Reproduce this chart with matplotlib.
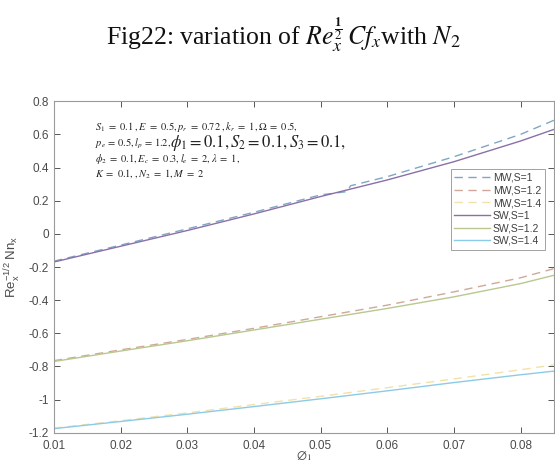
import matplotlib
matplotlib.use("Agg")
import matplotlib.pyplot as plt

# ---- data ----
x_grid = [0.01, 0.02, 0.03, 0.04, 0.05, 0.06, 0.07, 0.08, 0.085]
x_mw1 = [0.01, 0.02, 0.03, 0.04, 0.05, 0.054, 0.0545, 0.06, 0.07, 0.08, 0.085]
mw_s1 = [-0.165, -0.068, 0.03, 0.13, 0.235, 0.255, 0.29, 0.345, 0.465, 0.60, 0.685]
mw_s12 = [-0.765, -0.70, -0.637, -0.57, -0.50, -0.43, -0.35, -0.265, -0.21]
mw_s14 = [-1.172, -1.127, -1.08, -1.03, -0.98, -0.928, -0.875, -0.82, -0.79]
sw_s1 = [-0.17, -0.075, 0.02, 0.12, 0.225, 0.325, 0.435, 0.56, 0.63]
sw_s12 = [-0.77, -0.707, -0.645, -0.58, -0.515, -0.45, -0.38, -0.30, -0.25]
sw_s14 = [-1.175, -1.132, -1.088, -1.042, -0.995, -0.947, -0.897, -0.85, -0.828]

labels = ["MW,S=1", "MW,S=1.2", "MW,S=1.4", "SW,S=1", "SW,S=1.2", "SW,S=1.4"]
colors = ["#7fa7c4", "#d0a898", "#f2e2a8", "#8a70a8", "#b8c890", "#8ccbe8"]

xticks = [0.01, 0.02, 0.03, 0.04, 0.05, 0.06, 0.07, 0.08]
yticks = [-1.2, -1, -0.8, -0.6, -0.4, -0.2, 0, 0.2, 0.4, 0.6, 0.8]
ytick_labels = ["-1.2", "-1", "-0.8", "-0.6", "-0.4", "-0.2", "0", "0.2", "0.4", "0.6", "0.8"]

plt.rcParams['mathtext.fontset'] = 'stix'
fig = plt.figure(figsize=(5.55, 4.73), dpi=100)
ax = fig.add_axes([0.097, 0.085, 0.901, 0.701])

gray = "#555555"
ax.plot(x_mw1, mw_s1, ls=(0, (6, 4)), color=colors[0], lw=1.0, label=labels[0])
ax.plot(x_grid, mw_s12, ls=(0, (6, 4)), color=colors[1], lw=1.0, label=labels[1])
ax.plot(x_grid, mw_s14, ls=(0, (6, 4)), color=colors[2], lw=1.0, label=labels[2])
ax.plot(x_grid, sw_s1, color=colors[3], lw=1.0, label=labels[3])
ax.plot(x_grid, sw_s12, color=colors[4], lw=1.0, label=labels[4])
ax.plot(x_grid, sw_s14, color=colors[5], lw=1.0, label=labels[5])

ax.set_xlim(0.01, 0.085)
ax.set_ylim(-1.2, 0.8)
ax.set_xticks(xticks)
ax.set_xticklabels([f"{t:.2f}" for t in xticks])
ax.set_yticks(yticks)
ax.set_yticklabels(ytick_labels)
ax.tick_params(direction='in', length=4, width=0.7, colors=gray, labelsize=8.5,
               top=True, right=True, labelcolor="#4a4a4a")
ax.tick_params(axis='x', pad=5)
for lab in ax.get_xticklabels() + ax.get_yticklabels():
    lab.set_family("Liberation Sans")
for s in ax.spines.values():
    s.set_color("#9a9a9a")
    s.set_linewidth(0.8)

ax.set_ylabel(r"$\mathregular{Re_x^{-1/2}\ Nn_x}$", fontsize=9.5, color="#4a4a4a",
              family="Liberation Sans", labelpad=4)
ax.set_xlabel(r"$\varnothing_1$", fontsize=9.5, color="#4a4a4a", labelpad=-2)

leg = ax.legend(loc="upper right", bbox_to_anchor=(0.982, 0.795),
                prop={"family": "Liberation Sans", "size": 7.5},
                frameon=True, fancybox=False, handlelength=3.4, handletextpad=0.3,
                labelspacing=0.25, borderpad=0.35, borderaxespad=0.0)
leg.get_frame().set_edgecolor("#8a8a8a")
leg.get_frame().set_linewidth(0.7)
for t in leg.get_texts():
    t.set_color("#404040")

fig.text(0.51, 0.925,
         r"Fig22: variation of $Re_x^{\frac{\mathbf{1}}{2}}\,Cf_x$with $N_2$",
         ha="center", va="center", fontsize=18.5, family="Liberation Serif", color="#111111")

# annotation text
tx = 0.082
tc = "#222222"
ax.text(tx, 0.922, r"$S_1\ =\ 0.1\ ,E\ =\ 0.5, p_r\ =\ 0.72\ , k_r\ =\ 1, \Omega\ =\ 0.5,$",
        transform=ax.transAxes, fontsize=7.5, color=tc, va="center")
ax.text(tx, 0.862, r"$p_e\,=\,0.5, l_p\,=\,1.2,$", transform=ax.transAxes,
        fontsize=7.5, color=tc, va="baseline")
ax.text(0.232, 0.862, r"$\phi_1 = 0.1, S_2 = 0.1, S_3 = 0.1,$", transform=ax.transAxes,
        fontsize=12, color=tc, va="baseline")
ax.text(tx, 0.826, r"$\phi_2\ =\ 0.1, E_c\ =\ 0.3, l_e\ =\ 2, \lambda\ =\ 1,$", transform=ax.transAxes,
        fontsize=7.5, color=tc, va="center")
ax.text(tx, 0.783, r"$K\ =\ 0.1,, N_2\ =\ 1, M\ =\ 2$", transform=ax.transAxes,
        fontsize=7.5, color=tc, va="center")

fig.savefig("out.png", dpi=100)
